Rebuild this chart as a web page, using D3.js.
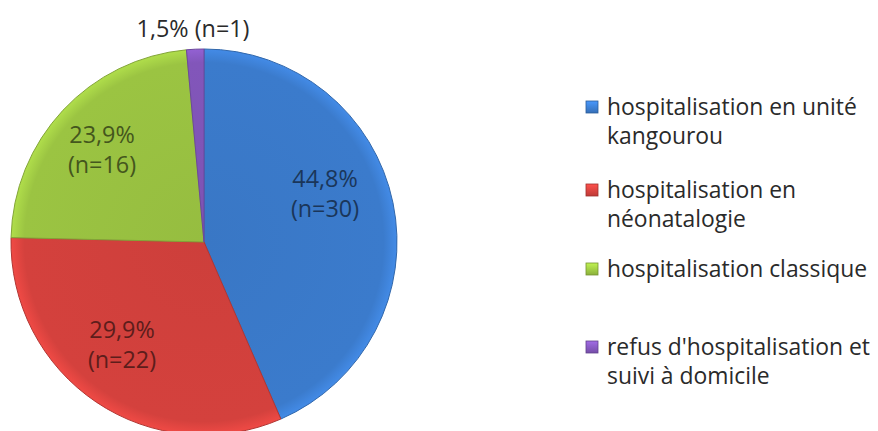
<!DOCTYPE html>
<html>
<head>
<meta charset="utf-8">
<script src="https://cdn.jsdelivr.net/npm/d3@7"></script>
<style>
  body { margin: 0; background: #fff; }
  text { font-family: "Open Sans", Lato, sans-serif; fill: #2a2a2a; }
</style>
</head>
<body>
<svg></svg>
<script>
var categories = ["hospitalisation en unité kangourou", "hospitalisation en néonatalogie",
                  "hospitalisation classique", "refus d'hospitalisation et suivi à domicile"];
var legendLines = [["hospitalisation en unité", "kangourou"], ["hospitalisation en", "néonatalogie"],
                   ["hospitalisation classique"], ["refus d'hospitalisation et", "suivi à domicile"]];
var counts = [30, 22, 16, 1];
var percents = [44.8, 29.9, 23.9, 1.5];   // as printed on the chart
var colors = ["#3b7bcc", "#d4413d", "#9bc442", "#8256ba"];

var svgWidth = 878, svgHeight = 431;
var cx = 204, cy = 242, radius = 193;

var svg = d3.select("svg")
	.attr("width", svgWidth)
	.attr("height", svgHeight);

var data = counts.map(function(n, i) {
	return {name: categories[i], n: n, pct: percents[i], color: colors[i]};
});

var defs = svg.append("defs");
data.forEach(function(d, i) {
	var gr = defs.append("radialGradient")
		.attr("id", "grad" + i)
		.attr("gradientUnits", "userSpaceOnUse")
		.attr("cx", 0).attr("cy", 0).attr("r", radius);
	gr.append("stop").attr("offset", "0%").attr("stop-color", d3.color(d.color).darker(0.1));
	gr.append("stop").attr("offset", "93%").attr("stop-color", d.color);
	gr.append("stop").attr("offset", "100%").attr("stop-color", d3.color(d.color).brighter(0.35));
	var lg = defs.append("linearGradient")
		.attr("id", "lgrad" + i)
		.attr("x1", 0).attr("y1", 0).attr("x2", 0).attr("y2", 1);
	lg.append("stop").attr("offset", "0%").attr("stop-color", d3.color(d.color).brighter(0.6));
	lg.append("stop").attr("offset", "100%").attr("stop-color", d3.color(d.color).darker(0.3));
});

// the slices follow the counts, the labels print the percentages
var pie = d3.pie()
	.sort(null)
	.value(function(d) { return d.n; });

var arc = d3.arc().innerRadius(0).outerRadius(radius);

var g = svg.append("g").attr("transform", "translate(" + cx + "," + cy + ")");

var arcs = pie(data);

g.selectAll("path")
	.data(arcs)
	.enter()
	.append("path")
	.attr("d", arc)
	.attr("fill", function(d, i) { return "url(#grad" + i + ")"; })
	.attr("stroke", function(d) { return d3.color(d.data.color).darker(0.5); })
	.attr("stroke-width", 1);

function fmt(p) { return String(p).replace(".", ",") + "%"; }

// font size that makes a string reach a given width
function fitSize(str, width) {
	var probe = svg.append("text").style("font-size", "20px").text(str);
	var w = probe.node().getComputedTextLength();
	probe.remove();
	return 20 * width / w;
}

var labelSize = fitSize("1,5% (n=1)", 113);
var legendSize = fitSize("hospitalisation en unité", 250);

// inner labels (two lines) for the three large slices
var labelPos = [[121, -55], [-82, 96], [-102, -99]];
arcs.slice(0, 3).forEach(function(a, i) {
	var t = g.append("text")
		.attr("text-anchor", "middle")
		.attr("x", labelPos[i][0])
		.attr("y", labelPos[i][1])
		.style("fill", d3.color(a.data.color).darker(2.3))
		.style("font-size", labelSize + "px");
	t.append("tspan").attr("x", labelPos[i][0]).text(fmt(a.data.pct));
	t.append("tspan").attr("x", labelPos[i][0]).attr("dy", 30).text("(n=" + a.data.n + ")");
});

// outside label for the small slice
var small = arcs[3];
g.append("text")
	.attr("text-anchor", "middle")
	.attr("x", -11)
	.attr("y", -205)
	.style("font-size", labelSize + "px")
	.text(fmt(small.data.pct) + " (n=" + small.data.n + ")");

// legend
var legendY = [115, 198, 277, 355];
var legend = svg.append("g").attr("class", "legend");
data.forEach(function(d, i) {
	var row = legend.append("g").attr("transform", "translate(586," + legendY[i] + ")");
	row.append("rect")
		.attr("x", 0).attr("y", -14)
		.attr("width", 12).attr("height", 12)
		.attr("fill", "url(#lgrad" + i + ")")
		.attr("stroke", d3.color(d.color).darker(0.8))
		.attr("stroke-width", 0.8);
	var t = row.append("text")
		.attr("x", 21)
		.attr("y", 0)
		.style("font-size", legendSize + "px");
	legendLines[i].forEach(function(line, j) {
		t.append("tspan").attr("x", 21).attr("dy", j === 0 ? 0 : 28.5).text(line);
	});
});
</script>
</body>
</html>
